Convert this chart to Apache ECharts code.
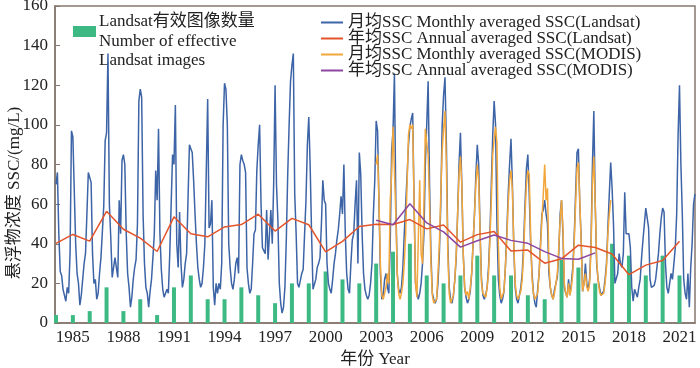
<!DOCTYPE html>
<html>
<head>
<meta charset="utf-8">
<script src="https://cdn.jsdelivr.net/npm/echarts@6/dist/echarts.min.js"></script>
<style>
  html, body { margin: 0; padding: 0; background: #fff; }
  #chart { width: 700px; height: 368px; }
</style>
</head>
<body>
<div id="chart"></div>
<script>
// 年份
var landsatStartYear = 1984;
var modisStartYear = 2003;
var yearTicks = [1985, 1988, 1991, 1994, 1997, 2000, 2003, 2006, 2009, 2012, 2015, 2018, 2021];

// 月均SSC (Landsat), 每行一年 1-12月
var landsatMonthly = [
    [70, 76, 45, 26, 24, 17, 16, 11, 18, 15, 35, 97],
    [94, 93, 40, 25, 20, 9, 14, 22, 30, 35, 55, 76],
    [75, 71, 35, 20, 22, 12, 15, 25, 33, 33, 59, 92],
    [96, 136, 60, 43, 23, 22, 33, 28, 23, 62, 45, 82],
    [85, 80, 45, 25, 18, 8, 13, 22, 28, 32, 50, 112],
    [118, 114, 55, 30, 18, 15, 8, 16, 22, 33, 45, 77],
    [62, 98, 45, 27, 17, 13, 14, 17, 15, 35, 60, 85],
    [80, 110, 40, 28, 56, 30, 18, 22, 30, 35, 36, 90],
    [88, 86, 72, 55, 40, 28, 22, 18, 20, 28, 40, 40],
    [113, 48, 50, 62, 18, 9, 20, 15, 20, 17, 30, 100],
    [121, 118, 100, 40, 28, 20, 17, 22, 30, 33, 25, 80],
    [85, 82, 80, 76, 28, 20, 15, 17, 30, 45, 47, 77],
    [90, 100, 60, 38, 38, 35, 57, 32, 45, 57, 40, 70],
    [120, 70, 52, 20, 10, 5, 8, 18, 42, 75, 100, 122],
    [130, 136, 65, 45, 20, 18, 17, 25, 27, 28, 62, 90],
    [104, 79, 45, 17, 17, 22, 28, 30, 33, 50, 72, 62],
    [60, 30, 20, 17, 15, 22, 30, 35, 42, 47, 55, 64],
    [55, 80, 45, 25, 17, 15, 30, 42, 45, 60, 72, 30],
    [86, 75, 45, 25, 17, 14, 12, 14, 20, 30, 55, 72],
    [102, 97, 60, 25, 12, 14, 22, 25, 18, 15, 40, 87],
    [97, 126, 60, 25, 17, 15, 18, 28, 45, 60, 74, 90],
    [99, 103, 106, 60, 20, 15, 12, 15, 20, 30, 45, 80],
    [100, 122, 70, 35, 15, 12, 10, 12, 20, 35, 60, 100],
    [115, 124, 90, 40, 18, 12, 10, 14, 22, 33, 55, 80],
    [96, 70, 35, 18, 13, 10, 12, 16, 25, 40, 55, 75],
    [90, 80, 45, 22, 14, 12, 14, 18, 28, 45, 70, 95],
    [112, 100, 50, 22, 14, 10, 12, 16, 28, 45, 65, 80],
    [93, 70, 38, 18, 12, 10, 14, 18, 25, 40, 60, 78],
    [85, 65, 40, 25, 15, 10, 8, 17, 25, 40, 55, 57],
    [62, 55, 50, 25, 18, 14, 12, 17, 20, 23, 35, 55],
    [62, 45, 18, 15, 13, 22, 14, 20, 28, 43, 65, 86],
    [88, 60, 42, 16, 20, 30, 20, 17, 22, 40, 80, 107],
    [60, 30, 22, 18, 14, 13, 16, 22, 30, 48, 65, 81],
    [68, 50, 20, 20, 25, 35, 30, 28, 35, 66, 45, 44],
    [45, 38, 18, 11, 17, 15, 13, 18, 22, 33, 42, 50],
    [58, 58, 48, 22, 18, 17, 19, 22, 23, 35, 45, 53],
    [58, 56, 30, 18, 15, 20, 25, 22, 30, 38, 55, 95],
    [120, 80, 55, 22, 15, 12, 25, 8, 28, 40, 60, 65]
];

// 月均SSC (MODIS), 2003-2016
var modisMonthly = [
    [80, 85, 62, 30, 14, 12, 13, 18, 25, 20, 62, 75],
    [99, 98, 55, 25, 15, 12, 15, 20, 30, 45, 70, 95],
    [100, 98, 100, 60, 20, 13, 12, 72, 35, 30, 60, 98],
    [91, 85, 60, 30, 14, 10, 9, 12, 25, 40, 65, 87],
    [98, 107, 80, 35, 15, 10, 9, 14, 22, 35, 55, 75],
    [84, 70, 35, 18, 14, 16, 12, 18, 25, 40, 55, 70],
    [80, 72, 45, 20, 15, 14, 13, 18, 25, 42, 62, 85],
    [93, 99, 91, 40, 18, 12, 12, 16, 28, 42, 60, 72],
    [77, 67, 40, 20, 14, 12, 13, 16, 22, 35, 55, 70],
    [77, 75, 45, 22, 15, 12, 12, 15, 25, 38, 52, 65],
    [80, 62, 68, 30, 18, 14, 12, 15, 20, 25, 38, 52],
    [62, 48, 20, 15, 13, 20, 14, 18, 25, 40, 60, 78],
    [81, 62, 40, 16, 20, 25, 18, 16, 20, 38, 70, 84],
    [60, 32, 22, 16, 14, 13, 15, 20, 28, 45, 55, 62]
];

// 年均SSC (Landsat) 1984-2021
var landsatAnnual = [40.2, 44.7, 41.3, 56.4, 47.3, 42.8, 36.1, 53.6, 45.0, 43.5,
    48.5, 49.7, 54.9, 46.4, 52.8, 49.6, 35.9, 41.2, 48.7, 49.8,
    49.7, 52.2, 47.5, 49.5, 40.8, 44.6, 46.2, 36.3, 36.8, 30.2,
    32.4, 39.3, 38.1, 34.8, 24.4, 29.2, 31.5, 41.3];

// 年均SSC (MODIS) 2003-2016
var modisAnnual = [51.9, 49.6, 60.2, 50.5, 46.0, 38.3, 41.5, 44.4, 41.7, 40.2, 36.0, 32.6, 32.2, 35.4];

// Landsat有效图像数量 1984-2021
var imageCount = [4, 4, 6, 18, 6, 12, 4, 18, 24, 12,
    12, 18, 14, 10, 20, 20, 26, 22, 20, 30,
    36, 40, 24, 20, 24, 34, 24, 24, 14, 12,
    32, 28, 20, 40, 34, 24, 34, 24];

var seriesNames = [
    '月均SSC Monthly averaged SSC(Landsat)',
    '年均SSC Annual averaged SSC(Landsat)',
    '月均SSC Monthly averaged SSC(MODIS)',
    '年均SSC Annual averaged SSC(MODIS)'
];
var barName = 'Landsat有效图像数量';

var FONT = "'Times New Roman', 'Liberation Serif', 'Noto Sans CJK SC', serif";
var AXIS_COLOR = '#85776f';

function monthlyPoints(rows, startYear) {
    var out = [];
    rows.forEach(function (row, i) {
        row.forEach(function (v, m) {
            out.push([startYear + i + m / 12, v]);
        });
    });
    return out;
}
function annualPoints(vals, startYear) {
    return vals.map(function (v, i) { return [startYear + i, v]; });
}

var chart = echarts.init(document.getElementById('chart'));
var option = {
    animation: false,
    grid: {
        left: 55, right: 5, top: 6, bottom: 45,
        outerBoundsMode: 'none',
        containLabel: false,
        show: true, borderColor: AXIS_COLOR, borderWidth: 1.5
    },
    legend: {
        orient: 'vertical',
        left: 316,
        top: 9,
        itemWidth: 22,
        itemHeight: 2,
        itemGap: -1,
        icon: 'rect',
        data: seriesNames,
        textStyle: { fontFamily: FONT, fontSize: 17, color: '#222', lineHeight: 16 }
    },
    xAxis: {
        type: 'value',
        min: 1983.94,
        max: 2021.92,
        name: '年份 Year',
        nameLocation: 'middle',
        nameGap: 27,
        nameTextStyle: { fontFamily: FONT, fontSize: 17, color: '#222' },
        axisLine: { lineStyle: { color: AXIS_COLOR, width: 1.5 } },
        axisTick: { show: false },
        splitLine: { show: false },
        axisLabel: {
            customValues: yearTicks,
            formatter: function (v) { return String(Math.round(v)); },
            fontFamily: FONT, fontSize: 17, color: '#222', margin: 6
        }
    },
    yAxis: {
        type: 'value',
        min: 0,
        max: 160,
        interval: 20,
        axisLine: { show: true, lineStyle: { color: AXIS_COLOR, width: 1.5 } },
        axisTick: { show: true, inside: true, length: 5, lineStyle: { color: AXIS_COLOR } },
        splitLine: { show: false },
        axisLabel: { fontFamily: FONT, fontSize: 17, color: '#222', margin: 7 }
    },
    graphic: [
        {
            type: 'text',
            x: 15, y: 193,
            rotation: Math.PI / 2,
            style: {
                text: '悬浮物浓度 SSC/(mg/L)',
                font: '17px ' + FONT,
                fill: '#222',
                align: 'center',
                verticalAlign: 'middle'
            }
        },
        {
            type: 'rect',
            shape: { x: 73, y: 26, width: 23, height: 11 },
            style: { fill: '#3dba84' }
        },
        {
            type: 'text',
            x: 99, y: 12,
            style: {
                text: 'Landsat有效图像数量\nNumber of effective\nLandsat images',
                font: '17px ' + FONT,
                lineHeight: 19.5,
                fill: '#222',
                align: 'left',
                verticalAlign: 'top'
            }
        }
    ],
    series: [
        {
            name: seriesNames[0],
            type: 'line',
            symbol: 'none',
            lineStyle: { width: 1.5, color: '#3d64a6' },
            itemStyle: { color: '#3d64a6' },
            data: monthlyPoints(landsatMonthly, landsatStartYear)
        },
        {
            name: seriesNames[2],
            type: 'line',
            symbol: 'none',
            lineStyle: { width: 1.5, color: '#f2a73c' },
            itemStyle: { color: '#f2a73c' },
            data: monthlyPoints(modisMonthly, modisStartYear)
        },
        {
            name: barName,
            type: 'bar',
            barWidth: 4,
            itemStyle: { color: '#3dba84' },
            data: annualPoints(imageCount, landsatStartYear)
        },
        {
            name: seriesNames[1],
            type: 'line',
            symbol: 'none',
            lineStyle: { width: 1.5, color: '#e3542b' },
            itemStyle: { color: '#e3542b' },
            data: annualPoints(landsatAnnual, landsatStartYear)
        },
        {
            name: seriesNames[3],
            type: 'line',
            symbol: 'none',
            lineStyle: { width: 1.5, color: '#8c46a0' },
            itemStyle: { color: '#8c46a0' },
            data: annualPoints(modisAnnual, modisStartYear)
        }
    ]
};
chart.setOption(option);
</script>
</body>
</html>
